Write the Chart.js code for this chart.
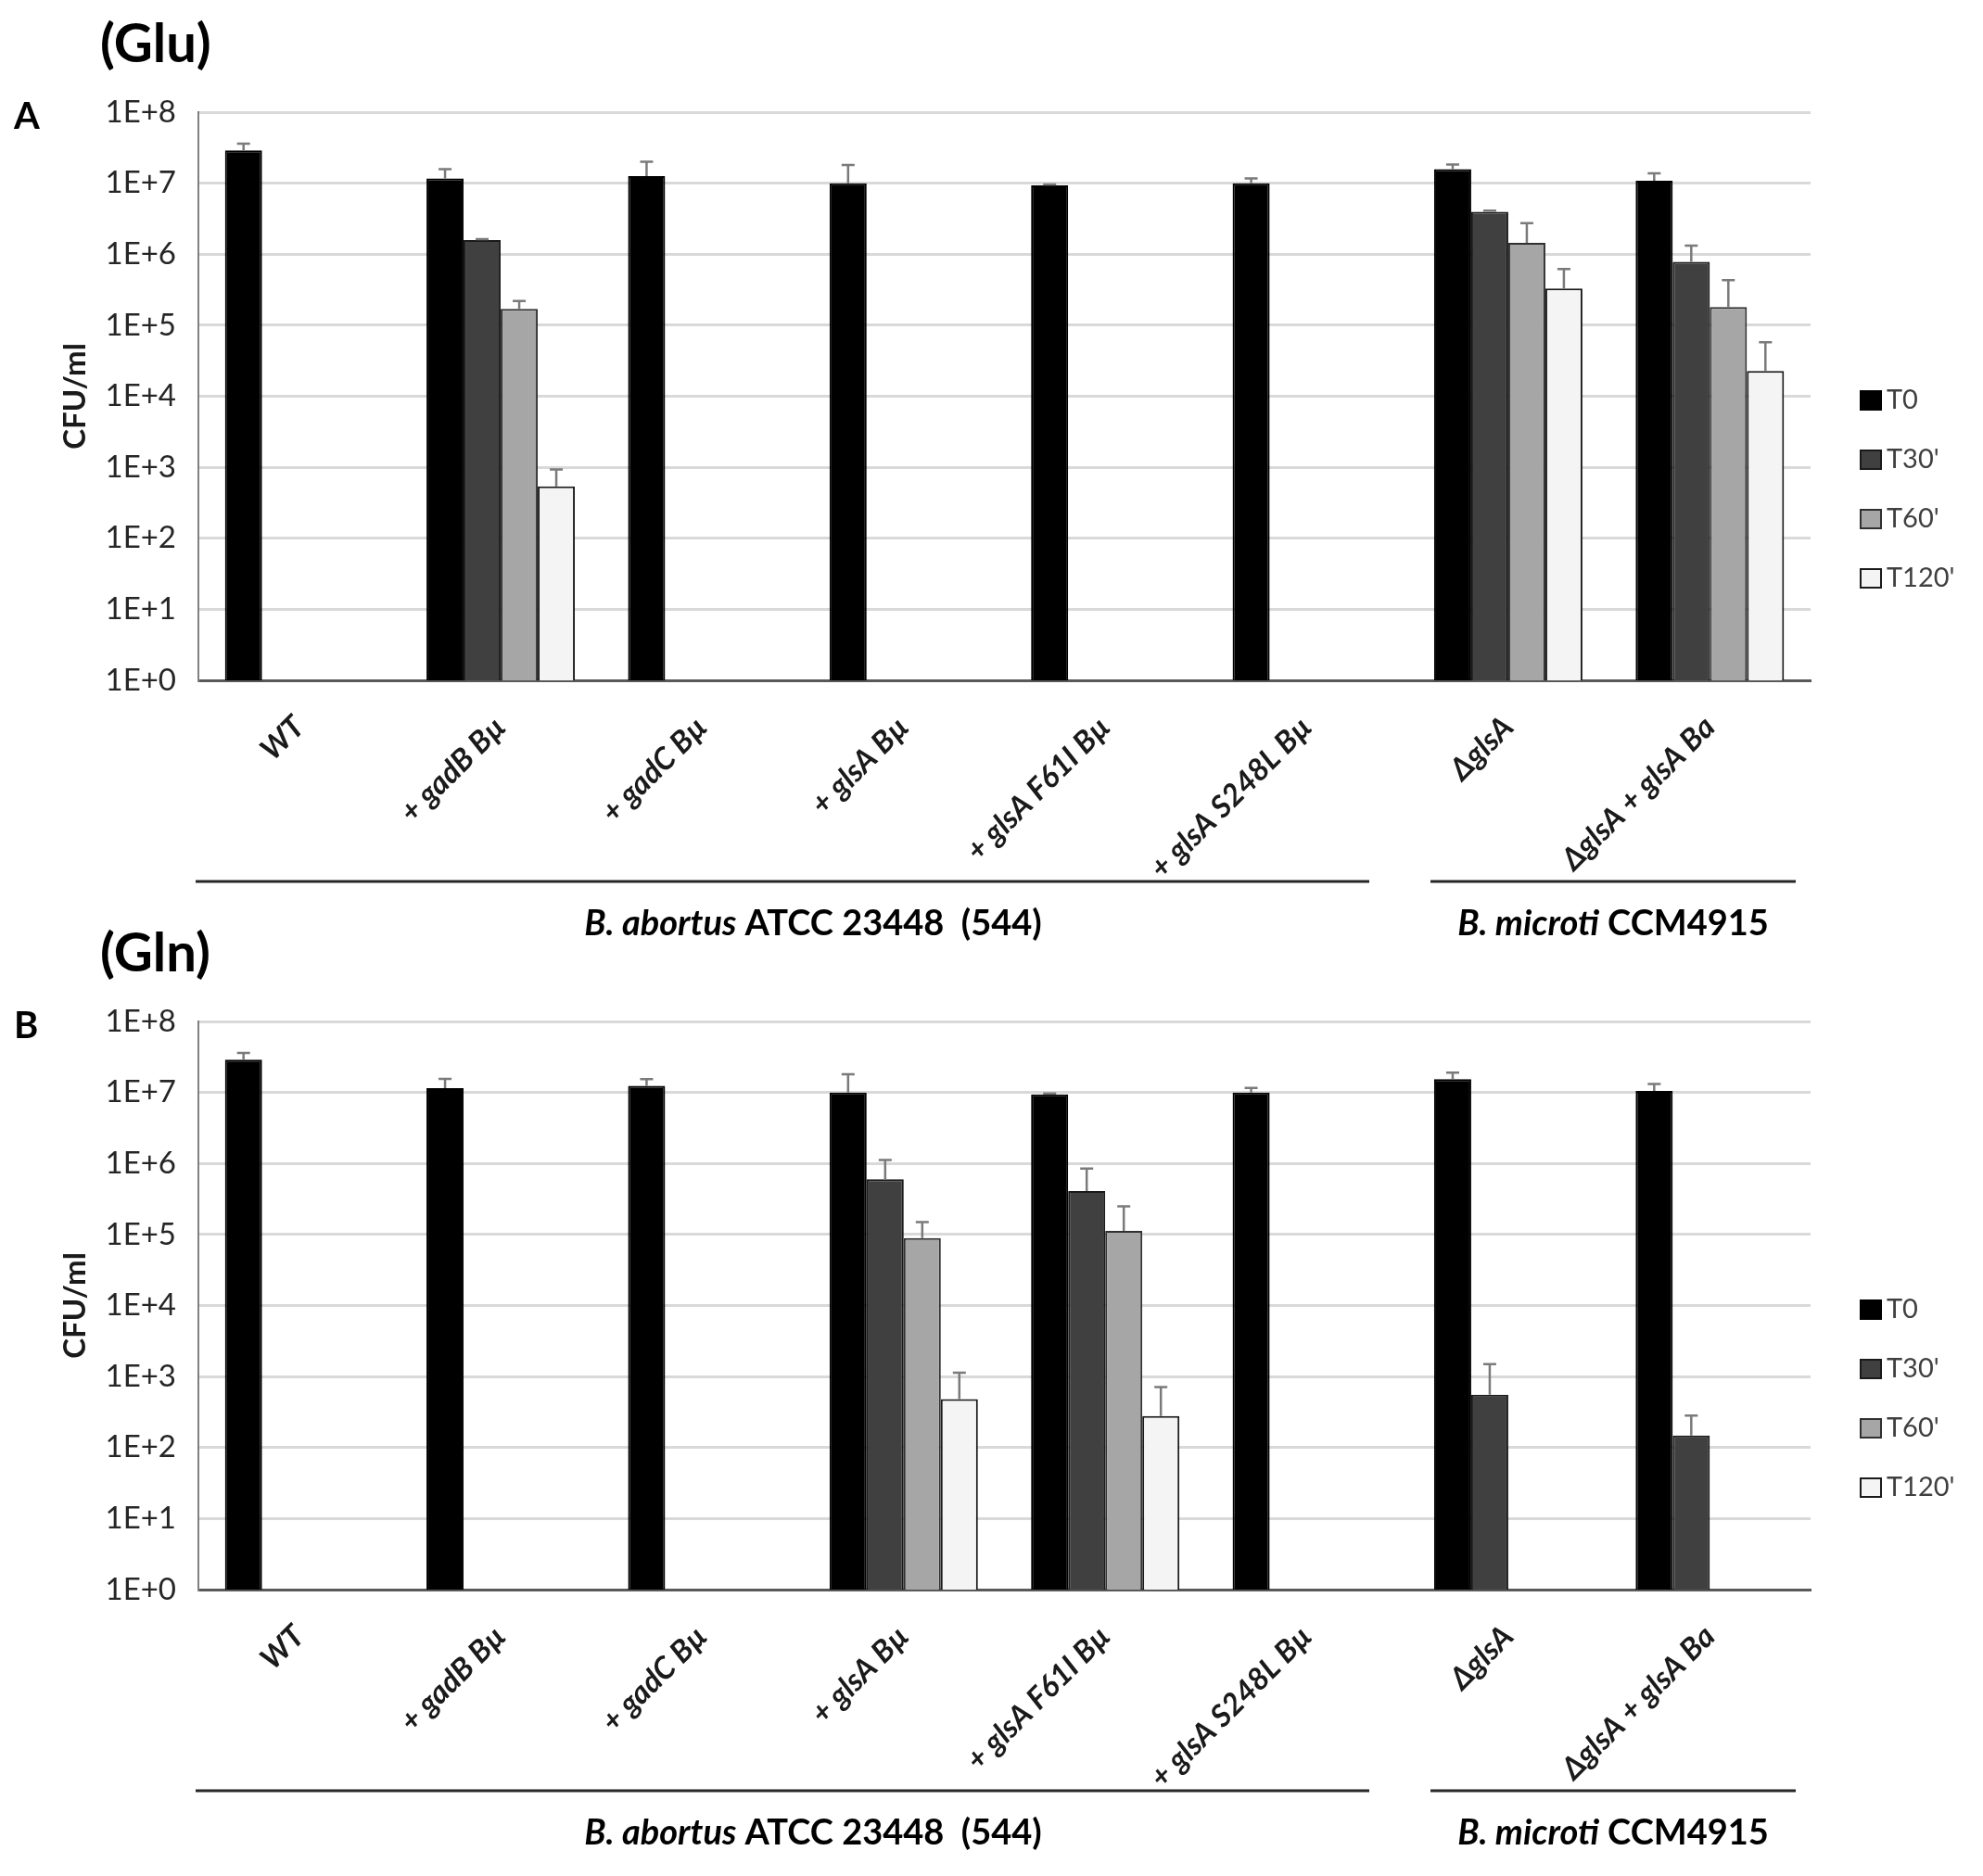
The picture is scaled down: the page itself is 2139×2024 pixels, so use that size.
<!DOCTYPE html>
<html>
<head>
<meta charset="utf-8">
<title>CFU/ml under Glu and Gln</title>
<script src="https://cdn.jsdelivr.net/npm/chart.js@4.4.1/dist/chart.umd.min.js"></script>
<style>
  html, body { margin: 0; padding: 0; background: #fff; overflow: hidden; }
  body { position: relative; width: 2139px; height: 2024px; }
  canvas { display: block; position: absolute; left: 0; }
  #chartGlu { top: 0; }
  #chartGln { top: 981px; }
</style>
</head>
<body>
<canvas id="chartGlu" width="2139" height="1024"></canvas>
<canvas id="chartGln" width="2139" height="1043"></canvas>
<script>
var strains = ['WT', '+ gadB Bµ', '+ gadC Bµ', '+ glsA Bµ', '+ glsA F61I Bµ', '+ glsA S248L Bµ', 'ΔglsA', 'ΔglsA + glsA Ba'];
var seriesNames = ['T0', "T30'", "T60'", "T120'"];
var yTickValues = [1, 1e1, 1e2, 1e3, 1e4, 1e5, 1e6, 1e7, 1e8];
var yTickLabels = ['1E+0', '1E+1', '1E+2', '1E+3', '1E+4', '1E+5', '1E+6', '1E+7', '1E+8'];

// (Glu) panel A
var gluT0 = [2.9e7, 1.17e7, 1.26e7, 1.0e7, 9.3e6, 1.0e7, 1.58e7, 1.08e7];
var gluT30 = [null, 1.58e6, null, null, null, null, 3.95e6, 7.8e5];
var gluT60 = [null, 1.7e5, null, null, null, null, 1.44e6, 1.8e5];
var gluT120 = [null, 540, null, null, null, null, 3.3e5, 2.27e4];
var gluErrT0 = [7e6, 4e6, 7.4e6, 8e6, 3e5, 1.7e6, 2.5e6, 3e6];
var gluErrT30 = [0, 5e4, 0, 0, 0, 0, 1.5e5, 5.4e5];
var gluErrT60 = [0, 5e4, 0, 0, 0, 0, 1.3e6, 2.5e5];
var gluErrT120 = [0, 390, 0, 0, 0, 0, 2.9e5, 3.5e4];

// (Gln) panel B
var glnT0 = [2.9e7, 1.15e7, 1.24e7, 1.0e7, 9.4e6, 1.0e7, 1.54e7, 1.05e7];
var glnT30 = [null, null, null, 6.0e5, 4.1e5, null, 555, 148];
var glnT60 = [null, null, null, 8.9e4, 1.12e5, null, null, null];
var glnT120 = [null, null, null, 480, 277, null, null, null];
var glnErrT0 = [7e6, 4e6, 3e6, 8e6, 3e5, 1.6e6, 3.6e6, 2.7e6];
var glnErrT30 = [0, 0, 0, 5.2e5, 4.4e5, 0, 945, 135];
var glnErrT60 = [0, 0, 0, 6.1e4, 1.38e5, 0, 0, 0];
var glnErrT120 = [0, 0, 0, 650, 433, 0, 0, 0];

var groupNames = [['B. abortus', ' ATCC 23448  (544)'], ['B. microti', ' CCM4915']];

var barColors = ['#000000', '#404040', '#a6a6a6', '#f4f4f4'];
var barBorders = ['#000000', '#1a1a1a', '#303030', '#1a1a1a'];
var fontFamily = 'Lato, "Liberation Sans", sans-serif';

var errorBars = {
    id: 'errorBars',
    afterDatasetsDraw: function(chart) {
        var ctx = chart.ctx;
        var y = chart.scales.y;
        ctx.save();
        ctx.strokeStyle = '#7a7a7a';
        ctx.lineWidth = 2.5;
        chart.data.datasets.forEach(function(ds, i) {
            var meta = chart.getDatasetMeta(i);
            meta.data.forEach(function(bar, j) {
                var v = ds.data[j];
                var e = ds.errors[j];
                if (v == null || !e) return;
                var top = y.getPixelForValue(v + e);
                ctx.beginPath();
                ctx.moveTo(bar.x, bar.y);
                ctx.lineTo(bar.x, top);
                ctx.moveTo(bar.x - 7, top);
                ctx.lineTo(bar.x + 7, top);
                ctx.stroke();
            });
        });
        ctx.restore();
    }
};

var panelText = {
    id: 'panelText',
    afterDraw: function(chart, args, opts) {
        var ctx = chart.ctx;
        ctx.save();
        ctx.fillStyle = '#000';
        ctx.textBaseline = 'middle';
        ctx.textAlign = 'left';

        ctx.font = 'bold 58px ' + fontFamily;
        ctx.fillText(opts.title, 108, 48);
        ctx.font = 'bold 40px ' + fontFamily;
        ctx.fillText(opts.letter, 15, 126);

        // legend
        chart.data.datasets.forEach(function(ds, i) {
            var yc = 432 + i * 64;
            ctx.fillStyle = ds.backgroundColor;
            ctx.fillRect(2007, yc - 10, 22, 20);
            ctx.strokeStyle = ds.borderColor;
            ctx.lineWidth = 2;
            ctx.strokeRect(2007, yc - 10, 22, 20);
            ctx.fillStyle = '#404040';
            ctx.font = '29px ' + fontFamily;
            ctx.fillText(ds.label, 2035, yc);
        });

        // strain group brackets
        ctx.strokeStyle = '#262626';
        ctx.lineWidth = 3;
        ctx.beginPath();
        ctx.moveTo(211, 951);
        ctx.lineTo(1477, 951);
        ctx.moveTo(1543, 951);
        ctx.lineTo(1937, 951);
        ctx.stroke();

        var centers = [877, 1740];
        ctx.fillStyle = '#000';
        groupNames.forEach(function(parts, k) {
            var fItal = 'italic bold 38px ' + fontFamily;
            var fBold = 'bold 38px ' + fontFamily;
            ctx.font = fItal;
            var w1 = ctx.measureText(parts[0]).width;
            ctx.font = fBold;
            var w2 = ctx.measureText(parts[1]).width;
            var x0 = centers[k] - (w1 + w2) / 2;
            ctx.font = fItal;
            ctx.fillText(parts[0], x0, 997);
            ctx.font = fBold;
            ctx.fillText(parts[1], x0 + w1, 997);
        });
        ctx.restore();
    }
};

function makeChart(canvasId, values, errors, title, letter) {
    var canvas = document.getElementById(canvasId);
    var datasets = seriesNames.map(function(name, i) {
        return {
            label: name,
            data: values[i],
            errors: errors[i],
            backgroundColor: barColors[i],
            borderColor: barBorders[i],
            borderWidth: 2,
            categoryPercentage: 0.736,
            barPercentage: 1.0
        };
    });
    var axisBottom = 734;
    return new Chart(canvas, {
        type: 'bar',
        data: { labels: strains, datasets: datasets },
        plugins: [errorBars, panelText],
        options: {
            responsive: false,
            animation: false,
            events: [],
            layout: { padding: { top: 121, right: 186, left: 0, bottom: 0 } },
            plugins: {
                legend: { display: false },
                tooltip: { enabled: false },
                panelText: { title: title, letter: letter }
            },
            scales: {
                x: {
                    grid: { display: false, drawTicks: false },
                    border: { display: true, color: '#595959', width: 3 },
                    ticks: {
                        autoSkip: false,
                        maxRotation: 45,
                        minRotation: 45,
                        padding: 31,
                        color: '#1a1a1a',
                        font: { family: fontFamily, size: 33, weight: 'bold', style: 'italic' }
                    },
                    afterFit: function(s) { s.height = canvas.height - axisBottom; }
                },
                y: {
                    type: 'logarithmic',
                    min: 1,
                    max: 1e8,
                    grid: { color: '#d9d9d9', lineWidth: 3, drawTicks: false },
                    border: { display: true, color: '#808080', width: 2 },
                    afterBuildTicks: function(s) {
                        s.ticks = yTickValues.map(function(v) { return { value: v }; });
                    },
                    ticks: {
                        padding: 24,
                        color: '#262626',
                        font: { family: fontFamily, size: 33 },
                        callback: function(v, i) { return yTickLabels[i]; }
                    },
                    title: {
                        display: true,
                        text: 'CFU/ml',
                        color: '#1a1a1a',
                        font: { family: fontFamily, size: 33, weight: 'bold' },
                        padding: { top: 62, bottom: 0 }
                    },
                    afterFit: function(s) { s.width = 214; }
                }
            }
        }
    });
}

makeChart('chartGlu', [gluT0, gluT30, gluT60, gluT120], [gluErrT0, gluErrT30, gluErrT60, gluErrT120], '(Glu)', 'A');
makeChart('chartGln', [glnT0, glnT30, glnT60, glnT120], [glnErrT0, glnErrT30, glnErrT60, glnErrT120], '(Gln)', 'B');
</script>
</body>
</html>
